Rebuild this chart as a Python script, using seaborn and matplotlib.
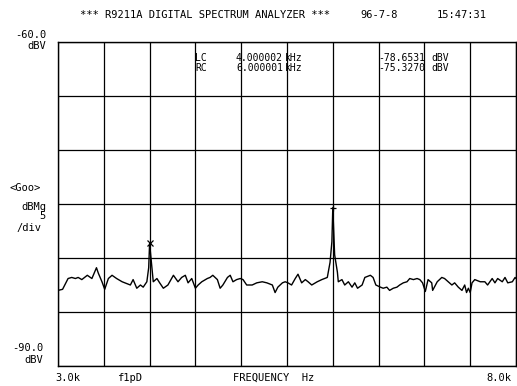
import matplotlib
matplotlib.use("Agg")
import matplotlib.pyplot as plt
import numpy as np
import seaborn as sns

# spectrum trace (Hz / dBV)
freq_hz = [
    3000, 3050, 3110, 3150, 3190, 3220, 3260, 3320, 3370, 3420,
    3440, 3480, 3510, 3550, 3590, 3640, 3700, 3730, 3790, 3820,
    3860, 3900, 3930, 3970, 3990, 4000, 4030, 4040, 4080, 4110,
    4150, 4200, 4260, 4310, 4350, 4390, 4420, 4460, 4500, 4530,
    4570, 4630, 4660, 4690, 4740, 4770, 4800, 4850, 4880, 4910,
    4950, 4990, 5020, 5060, 5120, 5170, 5230, 5280, 5340, 5370,
    5400, 5450, 5480, 5510, 5550, 5590, 5620, 5660, 5700, 5730,
    5770, 5830, 5880, 5940, 5970, 5990, 6000, 6020, 6050, 6060,
    6100, 6130, 6170, 6210, 6240, 6270, 6320, 6350, 6410, 6440,
    6470, 6520, 6550, 6590, 6620, 6660, 6700, 6730, 6770, 6810,
    6840, 6880, 6920, 6950, 6980, 7010, 7040, 7080, 7090, 7140,
    7190, 7220, 7260, 7300, 7330, 7370, 7410, 7440, 7460, 7480,
    7500, 7520, 7550, 7610, 7660, 7690, 7740, 7770, 7800, 7850,
    7880, 7910, 7960, 7990, 8000,
]
level_dbv = [
    -83.0, -82.9, -81.9, -81.8, -81.9, -81.8, -82.0, -81.6, -81.9, -80.9,
    -81.4, -82.2, -82.9, -81.9, -81.6, -81.9, -82.2, -82.3, -82.5, -82.0,
    -82.8, -82.5, -82.7, -82.2, -80.9, -78.65, -81.3, -82.2, -81.9, -82.3,
    -82.8, -82.5, -81.6, -82.2, -81.8, -81.6, -82.3, -81.9, -82.8, -82.5,
    -82.2, -81.9, -81.8, -81.6, -82.0, -82.8, -82.5, -81.8, -81.6, -82.2,
    -82.0, -81.9, -82.0, -82.5, -82.5, -82.3, -82.2, -82.3, -82.5, -83.2,
    -82.7, -82.3, -82.2, -82.3, -82.5, -81.9, -81.5, -82.3, -82.0, -82.2,
    -82.5, -82.2, -82.0, -81.8, -80.4, -78.5, -75.33, -79.7, -81.3, -82.2,
    -82.0, -82.5, -82.2, -82.7, -82.3, -82.8, -82.5, -81.8, -81.6, -81.8,
    -82.5, -82.7, -82.8, -82.7, -83.0, -82.8, -82.7, -82.5, -82.3, -82.2,
    -81.9, -82.0, -81.9, -82.0, -82.3, -83.1, -82.0, -82.3, -83.0, -82.2,
    -81.8, -81.9, -82.2, -82.5, -82.3, -82.7, -83.0, -82.5, -83.2, -82.8,
    -83.2, -82.3, -82.0, -82.2, -82.2, -82.5, -81.9, -82.3, -81.9, -82.2,
    -81.8, -82.3, -82.2, -81.8, -81.9,
]

# marker readouts
marker_names = ["LC", "RC"]
marker_freq_hz = [4000.002, 6000.001]
marker_level_dbv = [-78.6531, -75.3270]
marker_freq_txt = ["4.000002", "6.000001"]
marker_level_txt = ["-78.6531", "-75.3270"]

f_start, f_stop = 3000, 8000
ref_level, bottom_level = -60.0, -90.0

sns.set_style("white")
plt.rcParams["font.family"] = ["DejaVu Sans Mono", "DejaVu Sans"]

W, H = 517, 386
fig = plt.figure(figsize=(W / 100, H / 100), dpi=100)
ax = fig.add_axes([58 / W, 1 - 366 / H, 458 / W, 324 / H])

sns.lineplot(x=freq_hz, y=level_dbv, color="black", lw=1.0, sort=False, ax=ax)
ax.plot(marker_freq_hz[0], marker_level_dbv[0], marker="x", color="black", ms=5, mew=0.9)
ax.plot(marker_freq_hz[1], marker_level_dbv[1], marker="+", color="black", ms=5, mew=0.9)

ax.set_xlim(f_start, f_stop)
ax.set_ylim(bottom_level, ref_level)
ax.set_xticks(np.linspace(f_start, f_stop, 11))
ax.set_yticks(np.linspace(bottom_level, ref_level, 7))
ax.tick_params(length=0, labelbottom=False, labelleft=False)
ax.grid(True, color="black", lw=0.9)
ax.set_axisbelow(True)
for s in ax.spines.values():
    s.set_color("black")
    s.set_linewidth(1.0)


def put(x, y, s, ha="left", size=7.5):
    fig.text(x / W, 1 - y / H, s, ha=ha, va="center", fontsize=size, color="black")


# header
put(80, 15, "*** R9211A DIGITAL SPECTRUM ANALYZER ***")
put(360, 15, "96-7-8")
put(437, 15, "15:47:31")

# left scale labels
put(46, 35, "-60.0", ha="right")
put(46, 46, "dBV", ha="right")
put(41, 188, "<Goo>", ha="right")
put(46, 207, "dBMg", ha="right")
put(46, 216, "5", ha="right")
put(41, 228, "/div", ha="right")
put(43, 348, "-90.0", ha="right")
put(43, 360, "dBV", ha="right")

# bottom labels
put(55, 378, "3.0k")
put(117, 378, "f1pD")
put(233, 378, "FREQUENCY  Hz")
put(511, 378, "8.0k", ha="right")

# marker readouts
for i, name in enumerate(marker_names):
    y = 58 + 10 * i
    put(195, y, name, size=7)
    put(283, y, marker_freq_txt[i], ha="right", size=7)
    put(285, y, "kHz", size=7)
    put(378, y, marker_level_txt[i], size=7)
    put(431, y, "dBV", size=7)

fig.savefig("out.png", dpi=100, facecolor="white")
